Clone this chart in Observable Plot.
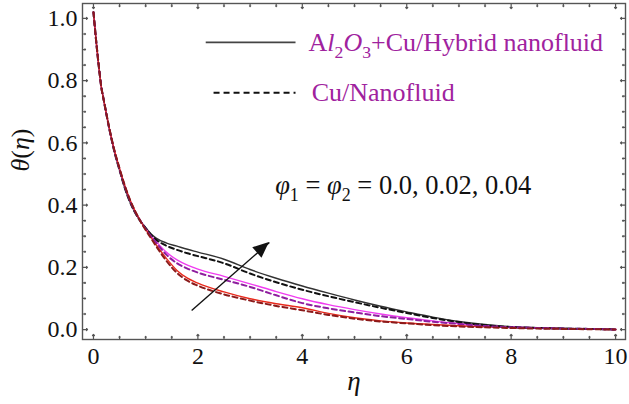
<!DOCTYPE html>
<html>
<head>
<meta charset="utf-8">
<script src="https://cdn.jsdelivr.net/npm/d3@7"></script>
<script src="https://cdn.jsdelivr.net/npm/@observablehq/plot@0.6"></script>
<style>
  html, body { margin: 0; padding: 0; background: #fff; }
  svg { display: block; }
</style>
</head>
<body>
<div id="chart"></div>
<script>
// ---------- data ----------
const eta = [0,0.05,0.1,0.15,0.2,0.3,0.4,0.5,0.6,0.7,0.8,0.9,1.0,1.1,1.2,1.4,1.6,1.8,2.0,2.5,3.0,3.5,4.0,4.5,5.0,5.5,6.0,6.5,7.0,7.5,8.0,8.5,9.0,9.5,10];

const hybrid004 = [1.02,0.93,0.85,0.78,0.735,0.648,0.572,0.512,0.455,0.41,0.375,0.349,0.327,0.308,0.294,0.278,0.268,0.258,0.249,0.226,0.193,0.165,0.14,0.117,0.095,0.075,0.057,0.04,0.026,0.016,0.009,0.006,0.004,0.002,0.0];
const nano004   = [1.02,0.93,0.85,0.78,0.735,0.648,0.572,0.512,0.455,0.41,0.375,0.348,0.326,0.305,0.289,0.269,0.256,0.245,0.236,0.213,0.18,0.152,0.128,0.107,0.088,0.07,0.053,0.037,0.024,0.014,0.008,0.005,0.003,0.002,0.0];
const hybrid002 = [1.02,0.93,0.85,0.78,0.735,0.648,0.575,0.515,0.46,0.414,0.378,0.349,0.324,0.302,0.283,0.248,0.224,0.207,0.194,0.171,0.147,0.122,0.099,0.08,0.064,0.05,0.038,0.028,0.019,0.012,0.008,0.005,0.003,0.002,0.0];
const nano002   = [1.02,0.93,0.85,0.78,0.735,0.648,0.575,0.515,0.46,0.414,0.378,0.349,0.323,0.3,0.279,0.24,0.213,0.196,0.183,0.16,0.137,0.11,0.085,0.068,0.055,0.043,0.034,0.025,0.018,0.011,0.007,0.005,0.003,0.002,0.0];
const hybrid000 = [1.02,0.93,0.85,0.78,0.735,0.65,0.577,0.518,0.463,0.417,0.38,0.349,0.322,0.297,0.273,0.228,0.19,0.165,0.149,0.121,0.099,0.083,0.07,0.052,0.038,0.028,0.021,0.016,0.012,0.009,0.006,0.004,0.003,0.002,0.0];
const nano000   = [1.02,0.93,0.85,0.78,0.735,0.65,0.577,0.518,0.463,0.417,0.38,0.348,0.32,0.294,0.268,0.22,0.182,0.157,0.141,0.113,0.093,0.076,0.062,0.047,0.035,0.026,0.02,0.014,0.01,0.007,0.005,0.003,0.002,0.001,0.0];

const xTicks = [0,2,4,6,8,10];
const yTicks = [0,0.2,0.4,0.6,0.8,1.0];
const legendLabels = ["Al2O3+Cu/Hybrid nanofluid", "Cu/Nanofluid"];
const annotationLabel = "φ1 = φ2 = 0.0, 0.02, 0.04";
const xLabel = "η";
const yLabel = "θ(η)";

// ---------- layout / style ----------
const xDomain = [-0.21, 10.19];
const yDomain = [-0.032, 1.048];

const series = [
  {name: "hybrid 0.04", values: hybrid004, stroke: "#333333", width: 1.4, dash: null},
  {name: "hybrid 0.02", values: hybrid002, stroke: "#f03cf0", width: 1.4, dash: null},
  {name: "hybrid 0.00", values: hybrid000, stroke: "#e8291c", width: 1.4, dash: null},
  {name: "nano 0.04",   values: nano004,   stroke: "#111111", width: 2.0, dash: "5,3.5"},
  {name: "nano 0.02",   values: nano002,   stroke: "#8e1e9e", width: 2.0, dash: "5,3.5"},
  {name: "nano 0.00",   values: nano000,   stroke: "#8b1a1a", width: 2.0, dash: "5,3.5"}
];

const legendLayout = [
  {x1: 2.15, x2: 3.87, y: 0.923, tx: 4.12, stroke: "#444", width: 1.6, dash: null},
  {x1: 2.30, x2: 3.87, y: 0.761, tx: 4.18, stroke: "#111", width: 2.0, dash: "6,4"}
];
const annotationPos = {x: 3.48, y: 0.463};
const arrowFrom = [1.88, 0.061];
const arrowTo = [3.37, 0.28];

const minorX = d3.range(0, 10.01, 0.5).filter(v => !xTicks.includes(v));
const minorY = d3.range(0, 1.001, 0.05).map(v => +v.toFixed(2)).filter(v => !yTicks.some(t => Math.abs(t - v) < 1e-9));

const marks = [];
for (const s of series) {
  const rows = eta.map((e, i) => ({eta: e, v: s.values[i]}));
  marks.push(Plot.line(rows, {x: "eta", y: "v", stroke: s.stroke, strokeWidth: s.width, strokeDasharray: s.dash, curve: "monotone-x"}));
}
marks.push(Plot.frame({stroke: "#555", strokeWidth: 1.4}));
const tickSet = (vals, len) => [
  Plot.vector(vals, {x: d => d, y: yDomain[0], length: len, rotate: 0, anchor: "start", stroke: "#555", strokeWidth: 1.2}),
  Plot.vector(vals, {x: d => d, y: yDomain[1], length: len, rotate: 180, anchor: "start", stroke: "#555", strokeWidth: 1.2})
];
const tickSetY = (vals, len) => [
  Plot.vector(vals, {y: d => d, x: xDomain[0], length: len, rotate: 90, anchor: "start", stroke: "#555", strokeWidth: 1.2}),
  Plot.vector(vals, {y: d => d, x: xDomain[1], length: len, rotate: -90, anchor: "start", stroke: "#555", strokeWidth: 1.2})
];
marks.push(...tickSet(xTicks, 5), ...tickSet(minorX, 3), ...tickSetY(yTicks, 5), ...tickSetY(minorY, 3));
marks.push(Plot.axisX({ticks: xTicks, tickSize: 0, tickPadding: 7, tickFormat: d3.format("d"), fontSize: 24, fill: "#111", label: null}));
marks.push(Plot.axisY({ticks: yTicks, tickSize: 0, tickPadding: 5, tickFormat: d3.format(".1f"), fontSize: 24, fill: "#111", label: null}));
marks.push(Plot.text([xLabel], {frameAnchor: "bottom", dy: 50, text: d => d, fontSize: 27, fontStyle: "italic", fill: "#111"}));
marks.push(Plot.text([yLabel], {frameAnchor: "left", dx: -62, rotate: -90, text: d => d, fontSize: 26, fill: "#111"}));
legendLayout.forEach((L, i) => {
  marks.push(Plot.link([L], {x1: "x1", x2: "x2", y1: "y", y2: "y", stroke: L.stroke, strokeWidth: L.width, strokeDasharray: L.dash}));
  marks.push(Plot.text([legendLabels[i]], {x: L.tx, y: L.y, text: d => d, textAnchor: "start", fontSize: 26, fill: "#a0229e"}));
});
marks.push(Plot.text([annotationLabel], {x: annotationPos.x, y: annotationPos.y, text: d => d, textAnchor: "start", fontSize: 26.5, fill: "#111"}));
marks.push(Plot.link([{x1: arrowFrom[0], y1: arrowFrom[1], x2: arrowTo[0], y2: arrowTo[1]}], {x1: "x1", y1: "y1", x2: "x2", y2: "y2", stroke: "#111", strokeWidth: 1.4}));

const plot = Plot.plot({
  width: 629, height: 404,
  marginLeft: 82, marginRight: 4, marginTop: 3, marginBottom: 65,
  x: {domain: xDomain},
  y: {domain: yDomain},
  style: {background: "#fff"},
  marks
});
document.getElementById("chart").appendChild(plot);

function rich(key, parts) {
  d3.select(plot).selectAll("text").filter(function () { return this.textContent === key; }).each(function () {
    const t = d3.select(this);
    const fs = parseFloat(t.attr("font-size")) || parseFloat(getComputedStyle(this).fontSize) || 24;
    t.text(null);
    let shift = 0;
    for (const p of parts) {
      const s = t.append("tspan").text(p.t);
      if (p.i) s.attr("font-style", "italic");
      const target = p.sub ? fs * 0.28 : 0;
      if (target !== shift) { s.attr("dy", target - shift); shift = target; }
      if (p.sub) s.attr("font-size", fs * 0.68);
    }
  });
}
rich(legendLabels[0], [{t: "A"}, {t: "l", i: 1}, {t: "2", sub: 1}, {t: "O", i: 1}, {t: "3", sub: 1}, {t: "+Cu/Hybrid nanofluid"}]);
rich(annotationLabel, [{t: "φ", i: 1}, {t: "1", sub: 1}, {t: " = "}, {t: "φ", i: 1}, {t: "2", sub: 1}, {t: " = 0.0, 0.02, 0.04"}]);
rich(yLabel, [{t: "θ", i: 1}, {t: "("}, {t: "η", i: 1}, {t: ")"}]);

d3.select(plot).selectAll("text").each(function () {
  this.style.setProperty("font-family", '"Liberation Serif", "Times New Roman", serif', "important");
});

const sx = plot.scale("x"), sy = plot.scale("y");
const px0 = sx.apply(arrowFrom[0]), py0 = sy.apply(arrowFrom[1]);
const px1 = sx.apply(arrowTo[0]), py1 = sy.apply(arrowTo[1]);
const ang = Math.atan2(py1 - py0, px1 - px0);
const headLen = 16, headHalf = 7;
const ux = Math.cos(ang), uy = Math.sin(ang);
const bx = px1 - ux * headLen, by = py1 - uy * headLen;
const pts = [[px1, py1], [bx - uy * headHalf, by + ux * headHalf], [bx + uy * headHalf, by - ux * headHalf]];
d3.select(plot).append("polygon").attr("points", pts.map(p => p.join(",")).join(" ")).attr("fill", "#111");
</script>
</body>
</html>
